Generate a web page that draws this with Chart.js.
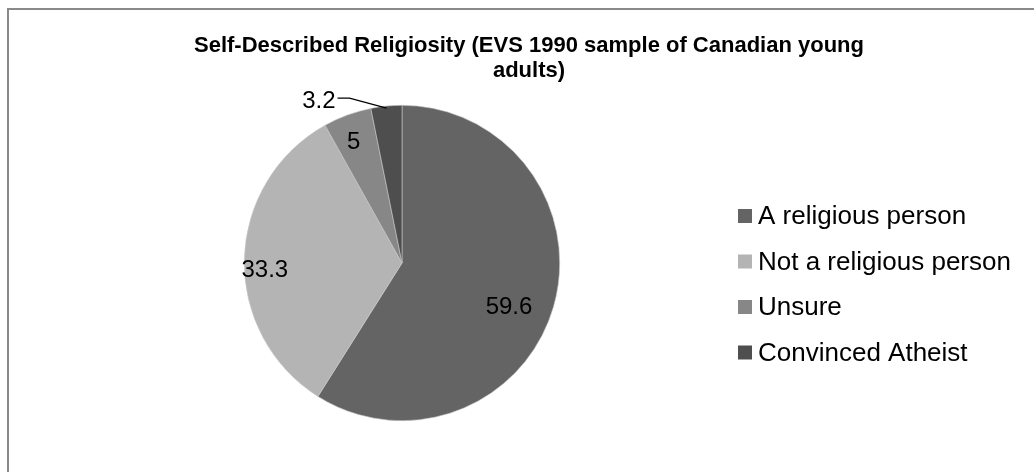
<!DOCTYPE html>
<html><head><meta charset="utf-8">
<script src="https://cdn.jsdelivr.net/npm/chart.js@4/dist/chart.umd.min.js"></script>
<style>
html,body{margin:0;padding:0;background:#fff;}
#wrap{position:relative;width:1034px;height:472px;}
#frame{position:absolute;left:7px;top:8px;width:1040px;height:480px;border:2px solid #8a8a8a;box-sizing:border-box;}
canvas{position:absolute;left:0;top:0;}
</style></head>
<body><div id="wrap"><div id="frame"></div><canvas id="c" width="1034" height="472"></canvas></div>
<script>
const categories = ["A religious person","Not a religious person","Unsure","Convinced Atheist"];
const values = [59.6, 33.3, 5, 3.2];
const valueLabels = ["59.6","33.3","5","3.2"];
const colors = ["#646464","#b4b4b4","#878787","#4e4e4e"];
const titleLines = ["Self-Described Religiosity (EVS 1990 sample of Canadian young","adults)"];

const FONT = "'Liberation Sans', Arial, sans-serif";
const labelStyle = [
  {r:0.72, da:0.06, out:false},
  {r:0.87, da:-0.04, out:false},
  {r:0.86, da:-0.01, out:false},
  {r:1.0, da:0, out:true}
];

const overlay = {
  id:'overlay',
  afterDraw(chart){
    const ctx = chart.ctx;
    ctx.save();
    ctx.fillStyle = '#000';
    ctx.font = "bold 22px " + FONT;
    ctx.textAlign = 'center';
    ctx.textBaseline = 'alphabetic';
    ctx.fillText(titleLines[0], 529, 52);
    ctx.fillText(titleLines[1], 529, 77);
    const meta = chart.getDatasetMeta(0);
    ctx.font = "24px " + FONT;
    ctx.textBaseline = 'middle';
    meta.data.forEach((arc, i) => {
      const p = arc.getProps(['x','y','startAngle','endAngle','outerRadius'], true);
      const st = labelStyle[i];
      const mid = (p.startAngle + p.endAngle)/2 + st.da;
      if (!st.out) {
        const rr = p.outerRadius * st.r;
        ctx.textAlign = 'center';
        ctx.fillText(valueLabels[i], p.x + Math.cos(mid)*rr, p.y + Math.sin(mid)*rr + 6);
      } else {
        const ex = p.x + Math.cos(mid)*(p.outerRadius-2);
        const ey = p.y + Math.sin(mid)*(p.outerRadius-2);
        const kx = ex - 37, ky = ey - 10;
        ctx.strokeStyle = '#000'; ctx.lineWidth = 1.3;
        ctx.beginPath(); ctx.moveTo(ex, ey); ctx.lineTo(kx, ky); ctx.lineTo(kx-12, ky); ctx.stroke();
        ctx.textAlign = 'right';
        ctx.fillText(valueLabels[i], kx-14, ky+3);
      }
    });
    ctx.font = "26px " + FONT;
    ctx.textAlign = 'left';
    categories.forEach((c, i) => {
      const y = 216 + i*45.5;
      ctx.fillStyle = colors[i];
      ctx.fillRect(738, y-7, 14, 14);
      ctx.fillStyle = '#000';
      ctx.fillText(c, 758, y+1);
    });
    ctx.restore();
  }
};

new Chart(document.getElementById('c'), {
  type:'pie',
  data:{labels:categories, datasets:[{data:values, backgroundColor:colors, borderWidth:0.6, borderColor:'#c8c8c8'}]},
  options:{
    responsive:false, animation:false,
    layout:{padding:{left:244,right:474,top:105,bottom:51}},
    plugins:{legend:{display:false}, title:{display:false}, tooltip:{enabled:false}}
  },
  plugins:[overlay]
});
</script></body></html>
